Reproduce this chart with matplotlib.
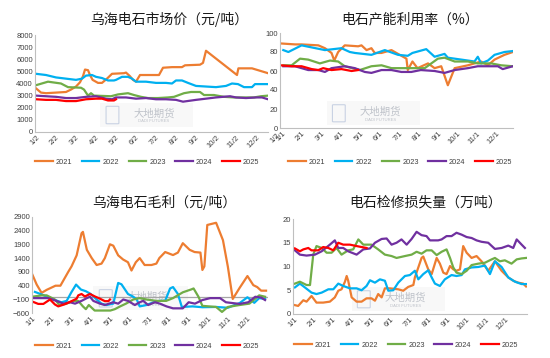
import numpy as np
import matplotlib
matplotlib.use('Agg')
import matplotlib.pyplot as plt
from matplotlib.patches import FancyBboxPatch

plt.rcParams['font.family'] = ['Liberation Sans', 'Noto Sans CJK SC', 'DejaVu Sans']
CJK = ['Noto Sans CJK SC', 'DejaVu Sans']

years = ['2021', '2022', '2023', '2024', '2025']
colors = ['#ED7D31', '#00B0F0', '#70AD47', '#7030A0', '#FF0000']

# ---- 乌海电石市场价 (x: months since 1/2) ----
price_x21 = [0, 0.25, 0.5, 1.0, 1.5, 1.75, 2.0, 2.2, 2.35, 2.45, 2.6, 2.7, 2.83, 3.1, 3.3, 3.55, 3.8, 4.4, 4.5, 4.7,
             4.85, 5.0, 5.2, 5.6, 6.15, 6.35, 6.8, 7.3, 7.45, 8.2, 8.35, 8.5, 10.05, 10.12, 10.8, 11.3, 11.6]
price_v21 = [3600, 3250, 3200, 3250, 3300, 3500, 3750, 4100, 4600, 5150, 5100, 4700, 4300, 4050, 4050, 4400, 4800, 4850, 4900, 4600,
             4300, 4150, 4700, 4700, 4700, 5300, 5350, 5350, 5500, 5550, 5700, 6700, 4700, 5250, 5250, 5000, 4850]
price_x22 = [0, 0.5, 1.0, 1.5, 2.0, 2.3, 2.5, 2.8, 3.0, 3.3, 3.6, 3.9, 4.0, 4.3, 4.6, 4.8, 5.0, 5.5, 6.0, 6.5,
             6.8, 7.0, 7.3, 7.6, 8.0, 8.5, 9.0, 9.5, 9.8, 10.1, 10.4, 10.8, 10.95, 11.5, 11.6]
price_v22 = [4800, 4700, 4500, 4400, 4300, 4400, 4650, 4700, 4550, 4450, 4250, 4250, 4300, 4550, 4550, 4400, 4150, 4150, 4050, 4050,
             4000, 4250, 4250, 4050, 3800, 3750, 3700, 3800, 4000, 3950, 3700, 3700, 3950, 3950, 3950]
price_x23 = [0, 0.6, 1.25, 1.6, 2.25, 2.4, 2.6, 2.75, 2.9, 3.75, 4.1, 4.6, 4.9, 5.25, 5.6, 6.1, 6.6, 6.9, 7.4, 7.75,
             8.2, 8.4, 8.9, 9.4, 9.9, 10.9, 11.25, 11.6]
price_v23 = [3860, 4150, 4000, 3700, 3650, 3500, 3000, 3200, 3000, 2950, 3100, 3200, 3050, 2900, 2800, 2800, 2850, 2900, 3200, 3300,
             3300, 3050, 3050, 2900, 2850, 2850, 2950, 3000]
price_x24 = [0, 0.5, 1.0, 1.5, 2.0, 2.5, 3.0, 3.5, 3.8, 4.0, 4.5, 5.0, 5.5, 6.0, 6.5, 7.0, 7.35, 8.0, 8.5, 9.0,
             9.7, 10.0, 10.5, 11.0, 11.3, 11.6]
price_v24 = [3000, 2950, 2900, 2800, 2800, 2900, 2950, 2750, 2700, 2850, 2850, 2750, 2800, 2700, 2700, 2650, 2500, 2650, 2750, 2850,
             2950, 2850, 2800, 2850, 2850, 2700]
price_x25 = [0, 0.5, 1.0, 1.5, 2.0, 2.5, 3.0, 3.3, 3.6, 3.9, 4.0]
price_v25 = [2700, 2650, 2650, 2550, 2550, 2700, 2750, 2750, 2600, 2600, 2700]

# ---- 电石产能利用率 (x: months since 1/1) ----
util_x21 = [-0.1, 0.64, 0.98, 1.84, 2.18, 2.52, 2.66, 2.86, 3.2, 3.89, 4.06, 4.32, 4.57, 4.74, 5.09, 5.6, 5.94,
            6.37, 6.44, 6.68, 6.94, 7.48, 7.82, 8.16, 8.5, 8.85, 9.53, 9.87, 10.21, 10.56, 10.9, 11.41, 11.84]
util_v21 = [89, 88, 88, 87, 84, 79, 71, 80, 87, 86, 87, 82, 84, 79, 79, 82, 78,
            73, 61, 70, 63, 68, 63, 65, 45, 63, 66, 68, 70, 66, 72, 77, 80]
util_x22 = [0.04, 0.3, 0.98, 2.18, 3.03, 3.46, 3.72, 4.57, 5.26, 5.94, 6.44, 6.68, 7.39, 7.82, 8.33, 8.5,
            9.19, 9.87, 10.04, 10.21, 10.56, 10.9, 11.41, 11.84]
util_v22 = [82, 80, 87, 82, 84, 80, 79, 77, 82, 77, 76, 79, 83, 75, 78, 74, 72, 70, 75, 68, 71, 77, 80, 81]
util_x23 = [0.04, 0.47, 0.9, 1.32, 1.92, 2.44, 2.86, 3.2, 3.97, 4.57, 5.09, 5.6, 6.44, 7.31, 7.99, 8.33,
            8.85, 9.53, 10.04, 10.73, 11.24, 11.84]
util_v23 = [66, 66, 73, 72, 68, 71, 70, 65, 61, 65, 66, 63, 63, 63, 73, 74, 70, 70, 68, 68, 66, 65]
util_x24 = [0.04, 0.64, 1.32, 1.84, 2.18, 2.52, 3.2, 3.72, 4.23, 4.57, 5.09, 5.6, 6.11, 6.62, 7.11, 7.82,
            8.33, 8.85, 9.53, 10.04, 10.56, 11.07, 11.32, 11.84]
util_v24 = [65, 65, 61, 61, 59, 63, 65, 63, 59, 58, 61, 61, 59, 59, 61, 60, 58, 61, 63, 65, 65, 65, 62, 65]
util_x25 = [-0.1, 0.47, 0.98, 1.5, 1.84, 2.09, 2.52, 3.03, 3.55, 3.89]
util_v25 = [66, 65, 65, 62, 61, 63, 61, 62, 60, 61]

# ---- 乌海电石毛利 (x: months since 1/1) ----
gm_x21 = [0.02, 0.24, 0.49, 0.75, 1.2, 1.45, 1.85, 2.02, 2.28, 2.53, 2.6, 2.8, 3.05, 3.3, 3.55, 3.72, 3.98, 4.15,
          4.4, 4.65, 4.9, 5.08, 5.3, 5.5, 5.75, 6.1, 6.35, 6.5, 6.8, 7.2, 7.45, 7.7, 8.05, 8.3, 8.6, 8.7, 8.8,
          8.95, 9.4, 9.75, 10.0, 10.25, 10.6, 11.0, 11.3, 11.5, 11.7, 11.95]
gm_v21 = [800, 440, 140, 250, 400, 400, 900, 1100, 1500, 2300, 2350, 1700, 1400, 1150, 1200, 1400, 1900, 1850,
          1500, 1350, 1250, 950, 1250, 1400, 1150, 1150, 1200, 1400, 1620, 1510, 1600, 1940, 1700, 1620, 1600, 970, 1100,
          2600, 2680, 2050, 1090, -80, 320, 750, 420, 350, 220, 220]
gm_x22 = [0.15, 0.5, 1.1, 1.5, 1.77, 2.0, 2.25, 2.5, 2.75, 3.0, 3.3, 3.55, 3.8, 4.15, 4.4, 4.57, 4.9, 5.17, 5.35,
          5.5, 5.85, 6.2, 6.5, 6.8, 7.05, 7.2, 7.45, 7.65, 8.2, 8.7, 9.4, 10.0, 10.6, 11.0, 11.35, 11.6, 11.9]
gm_v22 = [175, 80, -100, -200, -150, 150, 440, 260, 200, 100, -100, -250, -300, -250, 500, 450, 100, 0, -100,
          -350, -300, -200, -150, -150, 300, 350, 100, -370, -350, -380, -370, -400, -230, -20, -220, -50, -80]
gm_x23 = [0, 0.5, 0.75, 1.17, 1.4, 1.77, 2.1, 2.36, 2.6, 2.75, 2.9, 3.2, 4.0, 4.23, 4.5, 4.8, 5.17, 5.5, 5.85,
          6.35, 6.85, 7.2, 7.7, 8.15, 8.25, 8.5, 8.7, 9.4, 9.7, 10.0, 10.6, 11.1, 11.6, 11.9]
gm_v23 = [0, 50, 50, -100, -300, -250, -150, -150, -350, -450, -300, -500, -500, -450, -350, -250, -100, -50, -100,
          -150, -150, -50, 160, 270, 300, 0, -330, -370, -550, -370, -300, -250, 50, 0]
gm_x24 = [0, 0.58, 0.83, 1.25, 1.6, 1.94, 2.2, 2.53, 2.8, 2.96, 3.13, 3.47, 3.72, 4.15, 4.4, 4.66, 4.9, 5.25, 5.5,
          5.68, 5.93, 6.28, 6.53, 6.87, 7.2, 7.7, 8.0, 8.32, 8.7, 9.1, 9.6, 9.9, 10.6, 11.04, 11.4, 11.7, 11.9]
gm_v24 = [-50, -50, -50, -150, -250, -200, -250, -150, -50, 0, -150, -250, -300, -200, -250, -100, -150, -300, -200,
          -150, -300, -200, -250, -350, -420, -420, -200, -250, -120, -50, -50, -200, -260, -200, 0, -30, -120]
gm_x25 = [0.07, 0.32, 0.58, 0.92, 1.17, 1.34, 1.68, 2.02, 2.28, 2.36, 2.53, 2.7, 2.96, 3.21, 3.47, 3.72, 3.9, 3.98]
gm_v25 = [-190, -260, -260, -100, -280, -350, -270, -160, -70, 50, 100, 10, 100, 10, -70, -160, -160, -100]

# ---- 电石检修损失量 (x: months since 1/1) ----
loss_x21 = [-0.09, 0.17, 0.44, 0.61, 0.87, 1.13, 1.48, 1.83, 2.09, 2.27, 2.44, 2.62, 2.71, 2.79, 2.97, 3.23, 3.49,
            3.75, 4.01, 4.19, 4.36, 4.54, 4.71, 4.97, 5.41, 5.67, 5.93, 6.2, 6.28, 6.46, 6.63, 6.72, 6.98, 7.16, 7.42,
            7.59, 7.77, 7.94, 8.12, 8.29, 8.46, 8.64, 8.81, 8.99, 9.25, 9.51, 9.77, 10.12, 10.47, 10.82, 11.17,
            11.43, 11.69, 11.95, 12.1]
loss_v21 = [1.95, 1.7, 2.9, 2.6, 3.8, 2.4, 2.4, 2.6, 3.5, 4.9, 5.2, 6.8, 8.0, 7.0, 3.5, 2.6, 2.6,
            3.3, 3.3, 2.8, 4.2, 3.5, 5.4, 5.4, 5.2, 4.9, 5.7, 6.1, 7.7, 9.8, 11.8, 12.1, 9.4, 8.4, 11.8,
            10.6, 8.7, 8.4, 10.1, 9.4, 9.1, 9.4, 14.3, 12.9, 11.8, 12.2, 11.1, 9.1, 11.1, 9.1, 7.7,
            7.0, 6.6, 6.4, 5.8]
loss_x22 = [0, 0.26, 0.52, 0.87, 1.13, 1.4, 1.75, 2.01, 2.27, 2.53, 2.88, 3.23, 3.49, 3.75, 3.93, 4.19, 4.45, 4.71,
            4.89, 5.15, 5.41, 5.76, 6.02, 6.28, 6.46, 6.72, 6.98, 7.16, 7.33, 7.59, 7.85, 8.2, 8.46, 8.73, 8.9,
            9.25, 9.6, 9.95, 10.21, 10.47, 10.82, 11.17, 11.52, 11.87, 12.1]
loss_v22 = [5.6, 6.4, 5.6, 4.5, 4.2, 4.5, 5.2, 5.2, 6.4, 5.9, 5.4, 5.4, 5.0, 5.9, 7.1, 6.6, 7.3, 7.0,
            4.9, 5.0, 6.6, 8.0, 8.2, 9.1, 7.3, 8.4, 9.2, 7.7, 6.4, 5.9, 7.3, 8.2, 8.0, 8.2, 9.4,
            9.8, 9.9, 10.2, 8.4, 11.1, 9.9, 7.7, 6.8, 6.3, 6.3]
loss_x23 = [0, 0.26, 0.61, 0.79, 0.96, 1.13, 1.4, 1.66, 1.92, 2.18, 2.44, 2.79, 3.05, 3.32, 3.58, 4.01, 4.36, 4.71,
            5.06, 5.32, 5.76, 6.11, 6.37, 6.63, 6.89, 7.16, 7.42, 7.68, 7.94, 8.12, 8.29, 8.46, 8.73, 8.99, 9.25,
            9.6, 9.95, 10.3, 10.47, 10.73, 10.99, 11.34, 11.61, 11.87, 12.1]
loss_v23 = [6.4, 6.8, 6.1, 6.1, 12.5, 14.3, 13.9, 12.9, 12.9, 13.9, 12.5, 13.4, 13.6, 15.7, 14.6, 14.6, 13.6, 12.5,
            12.2, 11.8, 12.2, 12.5, 13.1, 12.7, 13.4, 13.4, 12.4, 13.1, 13.6, 11.8, 9.8, 8.7, 8.4, 9.1, 10.3,
            10.6, 10.8, 11.5, 11.8, 11.1, 11.3, 10.6, 11.5, 11.7, 11.8]
loss_x24 = [0, 0.26, 0.61, 1.05, 1.4, 1.83, 2.09, 2.27, 2.53, 2.79, 3.23, 3.58, 3.93, 4.19, 4.54, 4.8, 5.06, 5.32,
            5.58, 5.85, 6.11, 6.37, 6.63, 6.89, 7.07, 7.5, 7.68, 7.94, 8.2, 8.46, 8.73, 8.99, 9.25, 9.51, 9.77,
            10.12, 10.47, 10.82, 11.17, 11.43, 11.61, 11.87, 12.04]
loss_v24 = [13.4, 12.5, 12.3, 12.5, 13.2, 14.6, 15.5, 13.9, 13.9, 13.2, 12.5, 13.6, 13.8, 15.0, 15.8, 15.9, 14.6, 15.0,
            15.7, 14.6, 15.8, 17.3, 16.6, 16.4, 15.5, 15.5, 15.7, 16.4, 16.4, 17.1, 16.7, 16.2, 16.0, 15.5, 15.2,
            15.0, 13.7, 13.9, 14.4, 13.9, 15.7, 14.6, 13.9]
loss_x25 = [0, 0.26, 0.44, 0.7, 0.87, 1.22, 1.48, 1.75, 2.01, 2.27, 2.53, 2.88, 3.23, 3.49, 3.75]
loss_v25 = [13.8, 13.2, 13.6, 13.9, 13.4, 13.4, 14.1, 13.9, 13.4, 15.0, 14.6, 14.6, 14.3, 14.1, 13.9]

labels_2 = [f'{m}/2' for m in range(1, 13)]
labels_1 = [f'{m}/1' for m in range(1, 13)]

fig = plt.figure(figsize=(5.5, 3.58), dpi=100)
W, H = 550, 358
TICK_FS = 5.5


def make_ax(x0, y0, x1, y1):
    return fig.add_axes([x0 / W, 1 - y1 / H, (x1 - x0) / W, (y1 - y0) / H])


def style(ax, bottom=True):
    for s in ['top', 'right']:
        ax.spines[s].set_visible(False)
    ax.spines['left'].set_color('#bfbfbf')
    ax.spines['bottom'].set_color('#bfbfbf')
    ax.spines['bottom'].set_visible(bottom)
    ax.tick_params(length=0, labelsize=TICK_FS, colors='#404040', pad=1.5)
    for lab in ax.get_xticklabels():
        lab.set_rotation(45)
        lab.set_ha('right')
        lab.set_rotation_mode('anchor')


def watermark(ax, fx, fy):
    # faint logo: light box, small icon, company name
    ax.add_patch(FancyBboxPatch((fx - 0.2, fy - 0.09), 0.4, 0.25, boxstyle='square,pad=0',
                                transform=ax.transAxes, fc='#f4f4f4', ec='none', alpha=0.6, zorder=0))
    ax.add_patch(FancyBboxPatch((fx - 0.17, fy - 0.05), 0.045, 0.17, boxstyle='round,pad=0.005',
                                transform=ax.transAxes, fc='none', ec='#c9d2e3', lw=0.8, zorder=0))
    ax.text(fx + 0.03, fy, '大地期货', transform=ax.transAxes, family=CJK, fontsize=7.5,
            color='#b0b5be', alpha=0.8, ha='center', va='bottom', zorder=0)
    ax.text(fx + 0.03, fy - 0.01, 'DADI FUTURES', transform=ax.transAxes, fontsize=3,
            color='#b0b5be', alpha=0.8, ha='center', va='top', zorder=0)


def legend(ax, lines, cx, cy):
    ax.legend(lines, years, loc='center', bbox_to_anchor=(cx / W, 1 - cy / H),
              bbox_transform=fig.transFigure, ncol=5, frameon=False, fontsize=5.3,
              handlelength=2.4, handletextpad=0.4, columnspacing=1.3, labelcolor='#404040')


def title(cx, cy, text):
    fig.text(cx / W, 1 - cy / H, text, family=CJK, fontsize=10, ha='center', va='center', color='#1a1a1a')


LW = 1.6

# panel 1
ax1 = make_ax(35, 35, 268, 132)
lines = []
for x, v, c in zip([price_x21, price_x22, price_x23, price_x24, price_x25],
                   [price_v21, price_v22, price_v23, price_v24, price_v25], colors):
    lines.append(ax1.plot(x, v, color=c, lw=LW)[0])
ax1.set_ylim(0, 8000)
ax1.set_yticks(np.arange(0, 8001, 1000))
ax1.set_xlim(-0.05, 11.6)
ax1.set_xticks(range(12))
ax1.set_xticklabels(labels_2)
style(ax1)
ax1.text(12, 0, '1/2', fontsize=TICK_FS, color='#404040', rotation=45, ha='right', va='top',
         rotation_mode='anchor', transform=ax1.get_xaxis_transform(), clip_on=False)
watermark(ax1, 0.48, 0.14)
legend(ax1, lines, 147, 162)
title(169, 19, '乌海电石市场价（元/吨）')

# panel 2
ax2 = make_ax(280, 33, 513, 128)
lines = []
for x, v, c in zip([util_x21, util_x22, util_x23, util_x24, util_x25],
                   [util_v21, util_v22, util_v23, util_v24, util_v25], colors):
    lines.append(ax2.plot(x, v, color=c, lw=LW)[0])
ax2.set_ylim(0, 100)
ax2.set_yticks(np.arange(0, 101, 20))
ax2.set_xlim(-0.13, 11.85)
ax2.set_xticks(range(12))
ax2.set_xticklabels(labels_1)
style(ax2)
watermark(ax2, 0.40, 0.12)
legend(ax2, lines, 400, 162)
title(410, 19, '电石产能利用率（%）')

# panel 3
ax3 = make_ax(32, 216.7, 268, 313.3)
ax3.axhline(0, color='#a6a6a6', lw=0.9, zorder=1)
lines = []
for x, v, c in zip([gm_x21, gm_x22, gm_x23, gm_x24, gm_x25],
                   [gm_v21, gm_v22, gm_v23, gm_v24, gm_v25], colors):
    lines.append(ax3.plot(x, v, color=c, lw=LW, zorder=2)[0])
ax3.set_ylim(-600, 2900)
ax3.set_yticks(np.arange(-600, 2901, 500))
ax3.set_xlim(0, 12.05)
ax3.set_xticks(range(12))
ax3.set_xticklabels(labels_1)
style(ax3, bottom=False)
watermark(ax3, 0.46, 0.12)
legend(ax3, lines, 147, 346)
title(164, 202, '乌海电石毛利（元/吨）')

# panel 4
ax4 = make_ax(293, 219, 527, 314)
lines = []
for x, v, c in zip([loss_x21, loss_x22, loss_x23, loss_x24, loss_x25],
                   [loss_v21, loss_v22, loss_v23, loss_v24, loss_v25], colors):
    lines.append(ax4.plot(x, v, color=c, lw=LW)[0])
ax4.set_ylim(0, 20)
ax4.set_yticks(np.arange(0, 21, 5))
ax4.set_xlim(-0.1, 12.15)
ax4.set_xticks(range(12))
ax4.set_xticklabels(labels_1)
style(ax4)
watermark(ax4, 0.45, 0.12)
legend(ax4, lines, 406, 345)
title(426, 202, '电石检修损失量（万吨）')

fig.savefig('out.png', dpi=100)
plt.close('all')
